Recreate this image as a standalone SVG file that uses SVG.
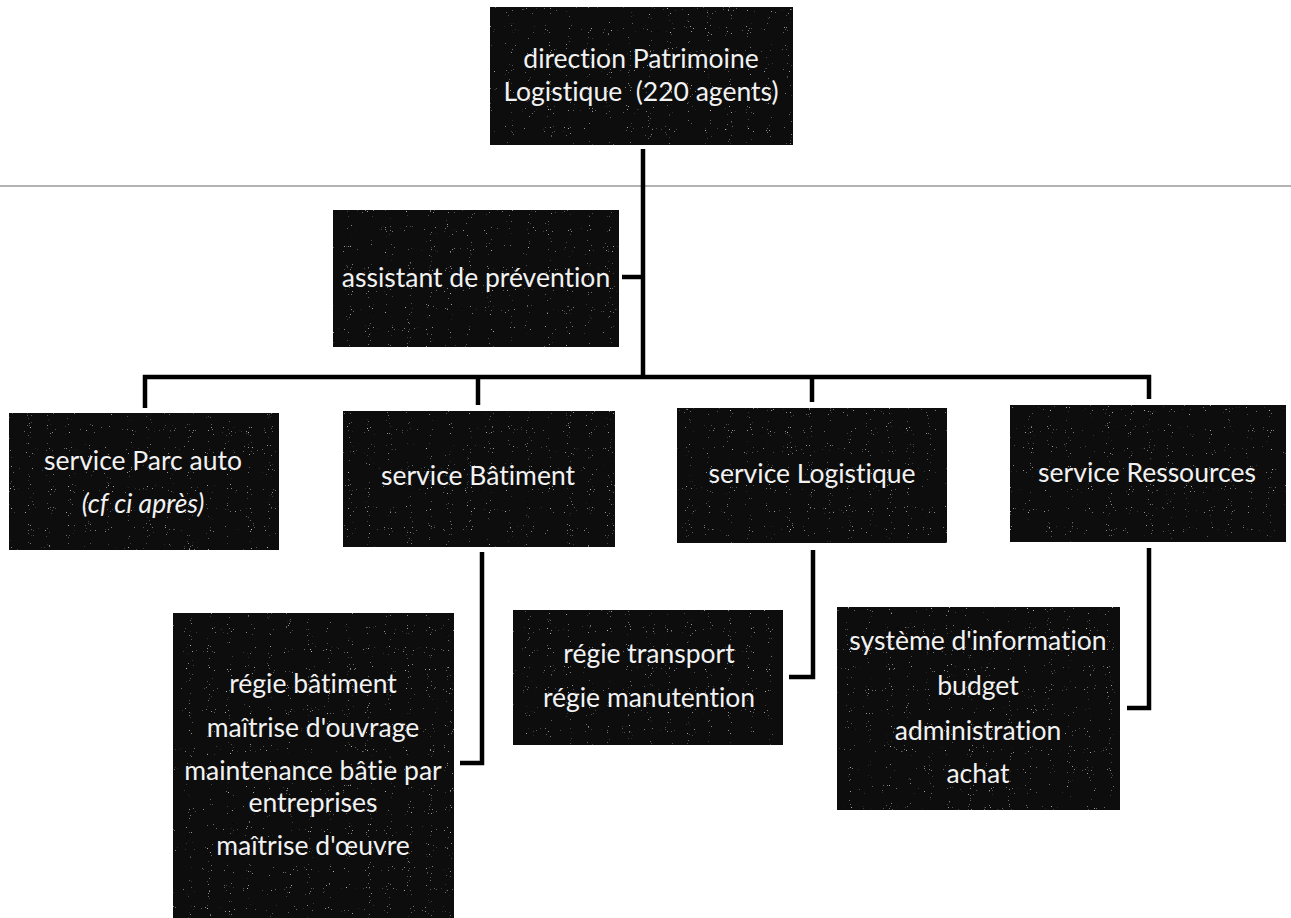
<svg xmlns="http://www.w3.org/2000/svg" width="1291" height="918" viewBox="0 0 1291 918">
  <defs>
    <filter id="speckle" x="0" y="0" width="100%" height="100%">
      <feTurbulence type="fractalNoise" baseFrequency="0.95" numOctaves="1" seed="7" result="n"/>
      <feColorMatrix in="n" type="matrix" values="0 0 0 0 0.5  0 0 0 0 0.5  0 0 0 0 0.5  9 0 0 0 -6.4" result="dots"/>
      <feComposite in="dots" in2="SourceGraphic" operator="in" result="d2"/>
      <feMerge><feMergeNode in="SourceGraphic"/><feMergeNode in="d2"/></feMerge>
    </filter>
  </defs>
  <style>
    .box { fill: #0a0a0a; filter: url(#speckle); }
    .lbl { font-family: Lato, "Liberation Sans", sans-serif; font-size: 26.5px; fill: #f2f2f2; text-anchor: middle; font-variant-ligatures: none; }
    .it { font-style: italic; }
    .conn { fill: none; stroke: #000; stroke-width: 4.5; stroke-linejoin: miter; stroke-linecap: butt; }
    .rule { stroke: #666; stroke-width: 1; }
  </style>
  <rect width="1291" height="918" fill="#fff"/>

  <line class="rule" x1="0" y1="186" x2="1291" y2="186"/>

  <g id="connectors">
    <path class="conn" d="M643,149 V377"/>
    <path class="conn" d="M622,277 H643"/>
    <path class="conn" d="M145,408 V377 H1149 V399"/>
    <path class="conn" d="M478,377 V405"/>
    <path class="conn" d="M812,377 V402"/>
    <path class="conn" d="M482,552 V763 H460"/>
    <path class="conn" d="M813,550 V677 H789"/>
    <path class="conn" d="M1149,548 V708 H1127"/>
  </g>

  <g id="direction">
    <rect class="box" x="490" y="7" width="303" height="138"/>
    <text class="lbl" x="641" y="68">direction Patrimoine</text>
    <text class="lbl" x="641" y="101">Logistique&#160; (220 agents)</text>
  </g>

  <g id="assistant">
    <rect class="box" x="333" y="210" width="286" height="137"/>
    <text class="lbl" x="476" y="287">assistant de prévention</text>
  </g>

  <g id="parc-auto">
    <rect class="box" x="9" y="413" width="270" height="137"/>
    <text class="lbl" x="143" y="470">service Parc auto</text>
    <text class="lbl it" x="143" y="513">(cf ci après)</text>
  </g>

  <g id="batiment">
    <rect class="box" x="343" y="411" width="272" height="136"/>
    <text class="lbl" x="478" y="485">service Bâtiment</text>
  </g>

  <g id="logistique">
    <rect class="box" x="677" y="408" width="270" height="135"/>
    <text class="lbl" x="812" y="483">service Logistique</text>
  </g>

  <g id="ressources">
    <rect class="box" x="1010" y="405" width="276" height="137"/>
    <text class="lbl" x="1147" y="482">service Ressources</text>
  </g>

  <g id="batiment-sub">
    <rect class="box" x="173" y="613" width="281" height="305"/>
    <text class="lbl" x="313" y="693">régie bâtiment</text>
    <text class="lbl" x="313" y="737">maîtrise d'ouvrage</text>
    <text class="lbl" x="313" y="780">maintenance bâtie par</text>
    <text class="lbl" x="313" y="812">entreprises</text>
    <text class="lbl" x="313" y="855">maîtrise d'œuvre</text>
  </g>

  <g id="logistique-sub">
    <rect class="box" x="513" y="610" width="270" height="135"/>
    <text class="lbl" x="649" y="663">régie transport</text>
    <text class="lbl" x="649" y="707">régie manutention</text>
  </g>

  <g id="ressources-sub">
    <rect class="box" x="837" y="607" width="283" height="203"/>
    <text class="lbl" x="978" y="650">système d'information</text>
    <text class="lbl" x="978" y="695">budget</text>
    <text class="lbl" x="978" y="740">administration</text>
    <text class="lbl" x="978" y="783">achat</text>
  </g>
</svg>
